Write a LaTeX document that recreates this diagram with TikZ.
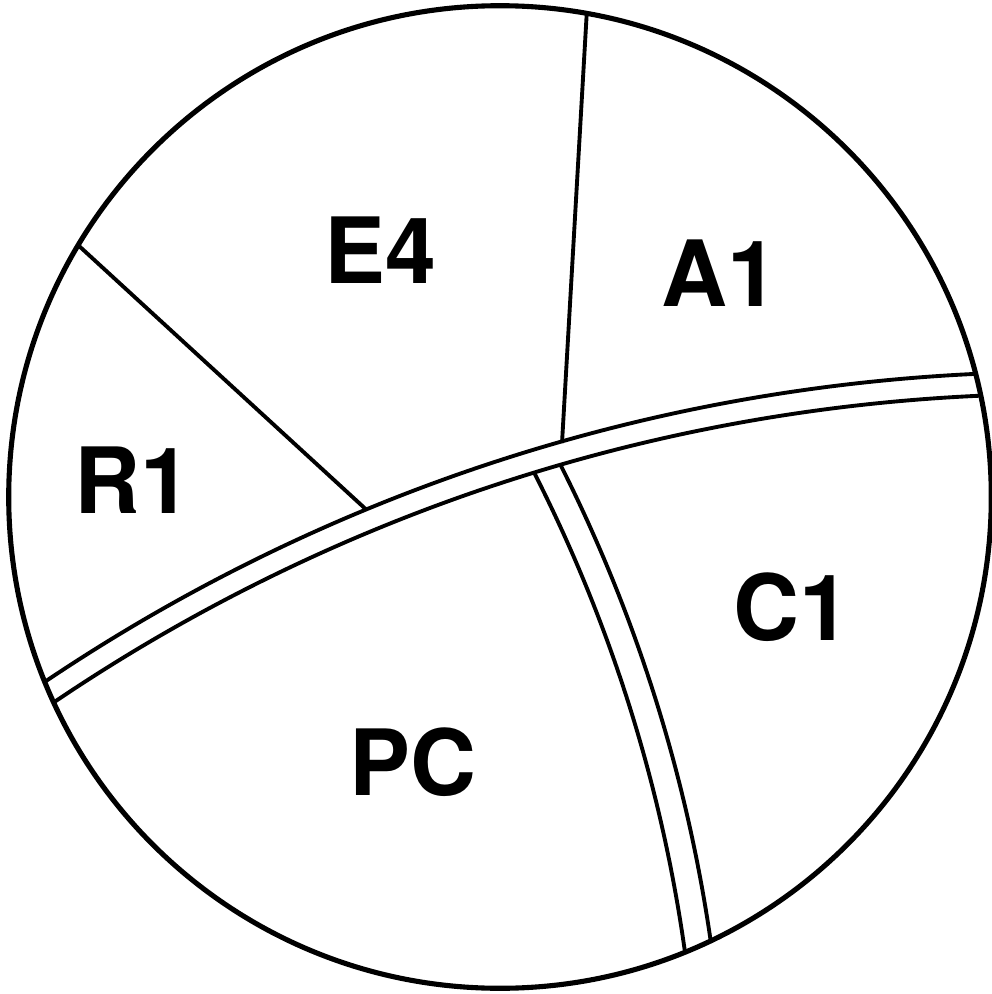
\documentclass[tikz,border=0pt]{standalone}
\usepackage{fontspec}
\setmainfont{TeX Gyre Heros}
\begin{document}
\begin{tikzpicture}[x=0.01cm,y=-0.01cm,
  outline/.style={line width=1.45pt},
  divider/.style={line width=1.1pt},
  region/.style={font=\fontsize{26}{31}\selectfont\bfseries, inner sep=0pt}]
\useasboundingbox (0,0) rectangle (992,994);
\coordinate (O) at (500,497);
\coordinate (B) at (1062.6,2196.4);
\coordinate (D) at (-836.3,1167.7);
\coordinate (re1) at (60,228.5);
\coordinate (re2) at (366.7,510);
\coordinate (ea1) at (587.5,0);
\coordinate (ea2) at (562,443);
\begin{scope}
  \clip (O) circle[radius=4.91cm];
  \draw[divider] (B) circle[radius=18.235cm];
  \draw[divider] (B) circle[radius=18.015cm];
  \draw[divider] (re1) -- (re2);
  \draw[divider] (ea1) -- (ea2);
  \begin{scope}
    \clip (B) circle[radius=18.015cm];
    \draw[divider] (D) circle[radius=15.354cm];
    \draw[divider] (D) circle[radius=15.624cm];
  \end{scope}
\end{scope}
\draw[outline] (O) circle[radius=4.91cm];
\node[region] (e4) at (380,250) {E4};
\node[region] (a1) at (720,273) {A1};
\node[region] (r1) at (133,480) {R1};
\node[region] (c1) at (792,607) {C1};
\node[region] (pc) at (413,762) {PC};
\end{tikzpicture}
\end{document}
